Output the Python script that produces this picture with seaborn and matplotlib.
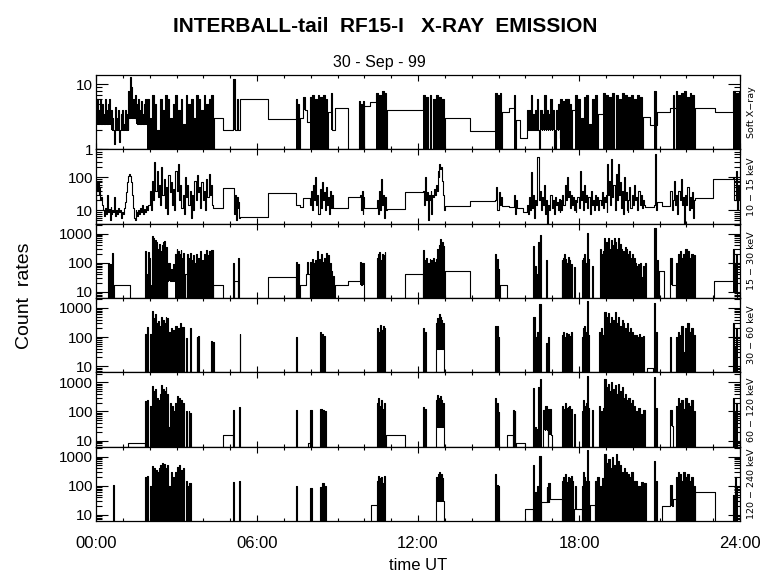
import matplotlib
matplotlib.use("Agg")
import matplotlib.pyplot as plt
import seaborn as sns
import pandas as pd
from matplotlib.ticker import FixedLocator, FixedFormatter, NullFormatter, LogLocator, MultipleLocator

# ---------------- data ----------------
hour_ticks = [0, 6, 12, 18, 24]
hour_labels = ["00:00", "06:00", "12:00", "18:00", "24:00"]
channel_labels = ["Soft X\u2212ray", "10 \u2212 15 keV", "15 \u2212 30 keV",
                  "30 \u2212 60 keV", "60 \u2212 120 keV", "120 \u2212 240 keV"]
y_limits = [(1, 14), (4, 700), (6.2, 2200), (6.2, 2200), (6.2, 2200), (6.2, 2200)]
y_major = [[1, 10], [10, 100], [10, 100, 1000], [10, 100, 1000], [10, 100, 1000], [10, 100, 1000]]

# Panel 1 : Soft X-ray
p1_step_t = [0, 4.4, 4.75, 5.35, 6.4, 7.6, 7.85, 8.65, 8.82, 8.9, 9.4, 10.0, 10.2, 10.85, 13.0,
             13.95, 15.13, 15.38, 15.65, 15.8, 17.75, 18.7, 20.4, 20.65, 20.9, 21.4, 22.33, 23.07, 23.95]
p1_step_v = [2.8, 3.0, 2.0, 5.9, 2.9, 3.0, 2.6, 3.8, 2.0, 4.4, 0.5, 4.7, 5.3, 4.0, 3.0,
             1.9, 3.7, 4.3, 2.8, 1.5, 4.0, 3.5, 3.2, 2.4, 3.8, 4.4, 4.4, 3.8, 8.0]
p1_burst_t0 = [0.0, 0.55, 1.2, 1.5, 1.9, 5.12, 5.25, 7.45, 7.72, 7.97, 8.75, 9.8, 10.45, 12.2,
               14.87, 15.57, 16.05, 17.3, 17.85, 18.9, 20.8, 21.5, 21.6, 23.75]
p1_burst_t1 = [0.55, 1.2, 1.5, 1.9, 4.4, 5.2, 5.33, 7.6, 7.85, 8.65, 8.82, 10.0, 10.85, 13.0,
               15.13, 15.65, 17.3, 17.75, 18.7, 20.4, 20.88, 21.55, 22.33, 23.95]
p1_burst_low = [2.5, 2.0, 3.0, 2.5, 0.5, 2.0, 2.0, 0.5, 4.0, 0.5, 2.0, 0.5, 0.5, 0.5,
                0.5, 0.5, 2.0, 0.5, 0.5, 0.5, 0.5, 0.5, 0.5, 0.5]
p1_burst_vals = [
    [5, 6, 4, 6, 5, 3.5, 6, 4, 5, 6],
    [4, 3, 1.2, 4.5, 3, 4, 1.3, 3.5, 4, 2.5, 4, 3.5],
    [8, 13, 9, 6, 7],
    [5, 6, 4, 5.5, 3.5, 5, 6],
    [6, 3, 7, 5, 2, 6, 4, 7, 6, 3, 5, 7, 4, 6, 2.5, 7, 5, 6, 3, 7, 6, 4, 7, 5, 6, 7],
    [12], [6], [6, 5], [6.5],
    [6.5, 7, 6, 7, 6.5, 7, 6],
    [7.5], [5.5, 5, 5.5], [7.5, 7, 8, 7.5],
    [7, 6.5, 7, 6, 7, 6.5, 6],
    [7.5, 7, 7.5], [7],
    [4, 4, 7, 3.5, 4, 6, 0.5, 4, 3.5, 7, 4, 3.5, 6, 4, 0.5, 4, 5],
    [6, 5.5, 6, 6, 5],
    [7, 6, 3, 6.5, 7, 2.5, 6, 7],
    [7.5, 7, 6.5, 7.5, 7, 6, 7.5, 7, 6.5, 7, 6, 7, 6.5],
    [8], [7], [7.8, 7, 7.5, 7.8, 6.5, 7.5, 7], [8, 7.5],
]

# Panel 2 : 10 - 15 keV  (noisy line; values listed in order)
p2_step_t = [0, 4.37, 4.73, 5.37, 6.4, 7.47, 7.6, 7.72, 8.85, 9.4, 10.0, 10.85, 11.5, 13.0, 13.95,
             15.13, 15.4, 15.7, 15.9, 20.47, 20.9, 21.1, 22.33, 23.0]
p2_step_v = [10, 12, 48, 6.3, 34, 15, 12.4, 24, 12, 25, 12, 11, 36, 14, 19,
             14, 12.5, 12, 8.7, 13, 18, 14, 24, 87]
p2_burst_t0 = [0.0, 0.25, 1.05, 1.5, 1.95, 5.13, 7.97, 9.84, 10.47, 12.2, 14.87, 15.57, 16.05,
               17.3, 17.9, 19.05, 19.83, 20.78, 21.4, 21.5, 23.75]
p2_burst_t1 = [0.25, 1.05, 1.5, 1.95, 4.37, 5.37, 8.85, 10.0, 10.85, 13.0, 15.13, 15.7, 17.3,
               17.9, 19.05, 19.83, 20.47, 20.9, 21.5, 22.33, 24.0]
p2_burst_vals = [
    [80, 40, 70, 30, 50, 20, 25, 15],
    [10, 7, 12, 8, 30, 9, 11, 5, 13, 8, 10, 9, 25, 7, 10, 8, 12, 9, 10, 6, 9, 8],
    [12, 18, 35, 70, 110, 125, 110, 70, 30, 12, 6, 5],
    [9, 7, 10, 8, 12, 9, 15, 8, 11, 9, 14, 10],
    [15, 40, 10, 80, 20, 300, 40, 150, 25, 60, 15, 200, 30, 90, 12, 50, 8, 120, 35, 70, 15, 45,
     10, 150, 40, 250, 20, 60, 12, 30, 8, 100, 25, 60, 15, 40, 6, 30, 10, 80, 20, 120, 35, 50,
     12, 70, 20, 40, 10, 90, 25, 130, 30, 60, 15],
    [20, 8, 30, 5, 25, 12, 18, 6],
    [15, 40, 10, 60, 20, 100, 15, 30, 8, 45, 12, 70, 20, 35, 10, 50, 15, 25, 8, 40, 12, 30],
    [30, 10, 40, 8, 25],
    [20, 8, 40, 10, 90, 15, 30, 6, 25, 10],
    [40, 15, 100, 20, 35, 5, 30, 20, 40, 8, 30, 25, 45, 30, 60, 40, 150, 100, 250, 180, 200, 80, 30, 10],
    [20, 50, 10, 35, 15, 25],
    [30, 8, 20],
    [15, 8, 25, 10, 140, 12, 30, 6, 20, 15, 420, 20, 40, 10, 25, 15, 60, 8, 20, 4, 15, 10, 30,
     12, 20, 8, 25, 15, 18, 10, 22],
    [20, 10, 30, 15, 60, 20, 100, 25, 40, 12, 30, 15, 25, 10, 20],
    [18, 25, 12, 160, 20, 40, 10, 60, 18, 30, 12, 25, 8, 40, 15, 20, 10, 30, 15, 25, 10, 20, 15,
     35, 12, 25, 18, 30],
    [250, 30, 80, 15, 365, 25, 60, 10, 130, 20, 250, 30, 70, 12, 40, 8, 100, 20, 35, 10],
    [20, 50, 12, 30, 15, 60, 20, 25, 10, 40, 15, 30, 12, 20, 15],
    [15, 500, 10],
    [40, 10],
    [20, 80, 15, 30, 8, 40, 20, 90, 15, 25, 4, 30, 15, 50, 10, 25, 12, 35, 6, 20],
    [100, 20, 150, 10, 60, 20],
]

# Panel 3 : 15 - 30 keV
p3_step_t = [0, 0.67, 1.25, 2.65, 3.3, 3.4, 4.37, 4.73, 5.15, 5.3, 6.4, 7.45, 7.6, 7.83, 7.97,
             8.9, 9.4, 10.0, 11.5, 12.2, 13.0, 13.95, 15.07, 15.3, 20.98, 21.17, 21.5, 21.6,
             23.03, 23.9]
p3_step_v = [1, 17, 1, 24, 40, 1, 17, 1, 24, 1, 33, 1, 17, 41, 1,
             17, 24, 1, 40, 1, 51, 1, 17, 1, 51, 1, 17, 1,
             24, 1]
p3_burst_t0 = [0.45, 1.83, 2.7, 2.95, 3.4, 3.8, 5.1, 5.3, 7.45, 7.85, 7.97, 9.84, 10.47, 12.2,
               14.87, 16.3, 16.78, 17.35, 17.82, 18.1, 18.48, 18.78, 18.95, 20.1, 20.8, 21.4,
               21.6, 23.75]
p3_burst_t1 = [0.65, 2.65, 2.95, 3.3, 3.8, 4.37, 5.15, 5.37, 7.6, 7.9, 8.9, 10.0, 10.8, 13.0,
               15.05, 16.6, 16.85, 17.74, 17.88, 18.4, 18.52, 18.95, 20.1, 20.5, 20.98, 21.5,
               22.33, 23.9]
p3_burst_low = [1, 1, 24, 1, 1, 1, 1, 1, 1, 41, 1, 17, 1, 1,
                1, 1, 1, 1, 1, 1, 1, 1, 1, 1, 1, 17,
                1, 10]
p3_burst_vals = [
    [100, 90, 210],
    [250, 40, 230, 150, 17, 800, 700, 600, 500, 300, 450, 250, 400, 500, 550, 350],
    [100, 60, 90],
    [200, 300, 250, 200, 280, 150, 220],
    [200, 150, 220, 120, 180, 100, 200],
    [150, 250, 120, 200, 280, 180, 250, 280],
    [100], [150], [110, 90], [110],
    [110, 130, 100, 120, 250, 130, 200, 110, 150, 220, 180, 100, 51, 35],
    [110, 100],
    [150, 200, 240, 120, 200, 180, 230],
    [280, 120, 150, 100, 130, 120, 150, 110, 140, 300, 400, 640, 500, 380],
    [195, 130, 60],
    [380, 80, 40, 500, 930],
    [125],
    [120, 150, 200, 130, 100, 160, 120, 90],
    [74],
    [120, 150, 200, 100, 1080, 130],
    [80],
    [300, 200, 250],
    [690, 500, 700, 300, 600, 400, 700, 500, 300, 700, 450, 300, 250, 350, 300, 200, 250, 150, 200, 150],
    [100, 80, 90, 100, 33, 80, 100],
    [1550, 120],
    [145],
    [100, 200, 250, 150, 200, 300, 250, 150, 200, 180],
    [300, 100, 200],
]

# Panel 4 : 30 - 60 keV
p4_step_t = [0, 20.55, 20.75]
p4_step_v = [1, 9, 1]
p4_burst_t0 = [1.83, 2.0, 2.1, 2.7, 2.95, 3.35, 3.5, 3.75, 4.3, 5.35, 7.47, 8.35, 10.47, 12.2,
               12.67, 14.87, 16.3, 16.78, 17.35, 18.1, 18.75, 18.95, 20.1, 20.8, 21.4, 21.6, 23.75]
p4_burst_t1 = [1.95, 2.05, 2.7, 2.95, 3.3, 3.4, 3.55, 3.85, 4.4, 5.4, 7.52, 8.55, 10.8, 12.3,
               12.97, 15.05, 16.6, 16.9, 17.74, 18.4, 18.95, 20.1, 20.45, 20.95, 21.45, 22.33, 23.9]
p4_burst_low = [1, 1, 1, 1, 1, 1, 1, 1, 1, 1, 1, 1, 1, 1,
                40, 1, 1, 1, 1, 1, 1, 1, 1, 1, 1, 1, 1]
p4_burst_vals = [
    [130, 16, 220], [130],
    [800, 450, 600, 300, 350, 250, 500, 400, 300, 500, 450],
    [150, 200, 180], [250, 200, 300, 220], [90], [200], [100, 110], [73, 70],
    [130], [100], [148, 130, 110],
    [200, 150, 260, 180, 250, 200],
    [200, 150],
    [300, 450, 600, 500, 400, 300],
    [240, 250, 100],
    [490, 100, 150, 1350],
    [64, 100],
    [120, 150, 100, 140, 130, 110, 150],
    [100, 200, 250, 150, 1740, 120],
    [150, 200, 120],
    [700, 500, 650, 300, 500, 400, 700, 300, 500, 250, 400, 300, 200, 300, 150, 200, 150, 120],
    [120, 100, 130, 100, 110],
    [1500, 150], [100],
    [100, 150, 120, 250, 30, 200, 300, 150, 200, 120],
    [300, 50, 200],
]

# Panel 5 : 60 - 120 keV
p5_step_t = [0, 1.2, 1.82, 4.73, 5.1, 7.9, 7.97, 10.8, 11.5, 15.3, 15.55, 15.65, 16.0]
p5_step_v = [1, 8.3, 1, 15.3, 1, 8.3, 1, 16, 1, 16, 1, 8, 1]
p5_burst_t0 = [1.83, 2.0, 2.1, 2.7, 2.95, 3.35, 3.45, 5.1, 5.33, 7.45, 7.97, 8.35, 10.47, 12.2,
               12.67, 14.87, 15.55, 16.3, 16.65, 16.85, 17.35, 17.82, 18.1, 18.48, 18.75, 18.95,
               20.1, 20.8, 21.4, 21.6, 23.75]
p5_burst_t1 = [1.95, 2.05, 2.7, 2.95, 3.3, 3.4, 3.55, 5.15, 5.38, 7.52, 8.1, 8.6, 10.8, 12.3,
               12.97, 15.05, 15.65, 16.6, 16.85, 17.0, 17.74, 17.88, 18.4, 18.52, 18.95, 20.1,
               20.5, 20.95, 21.5, 22.33, 23.9]
p5_burst_low = [1, 1, 1, 1, 1, 1, 1, 1, 1, 1, 1, 1, 1, 1,
                30, 1, 1, 1, 23, 16, 1, 1, 1, 1, 1, 1,
                1, 1, 31, 1, 1]
p5_burst_vals = [
    [230, 24, 250], [150],
    [750, 500, 600, 300, 250, 400, 800, 600, 500, 700, 400],
    [30, 200, 150, 100], [200, 350, 300, 250, 200], [100], [100, 90],
    [108], [140], [110], [110], [120, 110, 100],
    [200, 280, 150, 250, 120, 200],
    [140, 120],
    [250, 370, 300, 350, 250, 200],
    [300, 200, 96],
    [110, 100],
    [620, 30, 25, 700, 1350],
    [110, 150], [120],
    [150, 120, 200, 130, 140, 150, 120],
    [80],
    [100, 250, 150, 200, 1700, 130],
    [110],
    [150, 100, 130],
    [1300, 700, 900, 500, 1000, 600, 800, 400, 900, 500, 700, 300, 400, 250, 300, 200, 250, 150],
    [100, 130, 80, 110],
    [1500, 130], [110],
    [150, 300, 200, 250, 120, 300, 200, 150, 250, 100],
    [300, 100, 200],
]

# Panel 6 : 120 - 240 keV
p6_step_t = [0, 10.25, 10.47, 16.0, 16.3, 16.6, 16.9, 17.35, 17.8, 18.1, 18.4, 18.6, 21.1, 21.5,
             21.6, 22.33, 23.07]
p6_step_v = [1, 22.5, 1, 15.5, 1, 28, 35, 1, 15.5, 1, 22, 1, 21, 35,
             1, 59, 1]
p6_burst_t0 = [0.63, 1.83, 2.0, 2.1, 2.7, 2.95, 3.35, 5.1, 5.33, 7.47, 7.97, 8.35, 10.47, 12.67,
               14.87, 16.3, 16.45, 16.8, 16.9, 17.35, 17.85, 18.1, 18.6, 18.95, 20.1, 20.8,
               21.4, 21.6, 23.75]
p6_burst_t1 = [0.67, 1.95, 2.05, 2.7, 2.95, 3.3, 3.55, 5.15, 5.38, 7.52, 8.1, 8.6, 10.8, 12.97,
               15.05, 16.4, 16.6, 16.88, 16.95, 17.8, 17.9, 18.4, 18.95, 20.1, 20.55, 20.92,
               21.5, 22.33, 23.9]
p6_burst_low = [1, 1, 1, 1, 1, 1, 1, 1, 1, 1, 1, 1, 1, 30,
                1, 1, 1, 28, 35, 1, 15.5, 1, 1, 1, 1, 1,
                21, 1, 1]
p6_burst_vals = [
    [110], [200, 220], [100],
    [460, 400, 350, 300, 400, 500, 600, 550, 400, 500],
    [100, 300, 200], [300, 450, 500, 350, 400], [150, 100, 120],
    [140], [150], [100], [86], [92, 125, 100],
    [150, 225, 180, 200, 125, 220],
    [200, 260, 300, 260, 180],
    [263, 107, 100],
    [510, 60], [100, 1070],
    [93, 120], [120],
    [150, 200, 250, 130, 200, 180, 220, 150],
    [100],
    [100, 300, 200, 150, 1700, 150],
    [150, 200, 100, 180],
    [1200, 600, 800, 400, 1000, 500, 1200, 700, 500, 300, 400, 300, 250, 200, 300, 150],
    [150, 100, 130, 120],
    [700, 150],
    [110],
    [200, 300, 250, 150, 300, 200, 250, 150, 200, 100],
    [50, 200, 100],
]


# ---------------- assemble the series ----------------
PEAK_FRACTION = 0.65  # share of each sample interval spent at the peak value


def burst_sequence(a, b, lo, vals):
    if lo is None:
        n = len(vals)
        return [a + (b - a) * i / n for i in range(n)], list(vals)
    period = (b - a) / len(vals)
    ts, seq = [], []
    for i, v in enumerate(vals):
        ts += [a + period * i, a + period * (i + PEAK_FRACTION)]
        seq += [v, lo]
    return ts, seq


def build_series(step_t, step_v, b_t0, b_t1, b_low, b_vals, end=24.0):
    def base(t):
        v = step_v[0]
        for st, sv in zip(step_t, step_v):
            if st <= t + 1e-9:
                v = sv
        return v

    pts = []
    for st, sv in zip(step_t, step_v):
        if not any(a < st < b for a, b in zip(b_t0, b_t1)):
            pts.append((st, sv))
    fills = []
    for a, b, lo, vals in zip(b_t0, b_t1, b_low, b_vals):
        ts, seq = burst_sequence(a, b, lo, vals)
        pts += list(zip(ts, seq))
        if lo is not None:
            fills.append((ts + [b], seq + [lo], lo))
        if b < end:
            pts.append((b, base(b)))
    pts.sort(key=lambda p: p[0])
    pts.append((end, pts[-1][1]))
    df = pd.DataFrame({"t": [p[0] for p in pts], "v": [p[1] for p in pts]})
    return df, fills


panels = [
    build_series(p1_step_t, p1_step_v, p1_burst_t0, p1_burst_t1, p1_burst_low, p1_burst_vals),
    build_series(p2_step_t, p2_step_v, p2_burst_t0, p2_burst_t1, [None] * len(p2_burst_t0), p2_burst_vals),
    build_series(p3_step_t, p3_step_v, p3_burst_t0, p3_burst_t1, p3_burst_low, p3_burst_vals),
    build_series(p4_step_t, p4_step_v, p4_burst_t0, p4_burst_t1, p4_burst_low, p4_burst_vals),
    build_series(p5_step_t, p5_step_v, p5_burst_t0, p5_burst_t1, p5_burst_low, p5_burst_vals),
    build_series(p6_step_t, p6_step_v, p6_burst_t0, p6_burst_t1, p6_burst_low, p6_burst_vals),
]

# ---------------- drawing ----------------
plt.rcParams["font.family"] = ["Liberation Sans", "DejaVu Sans"]
W, H = 780, 579
fig = plt.figure(figsize=(W / 100, H / 100), dpi=100)

left_px, right_px = 96, 740
top_px, panel_h = 75, 74.33

for k, (df, fills) in enumerate(panels):
    y0 = top_px + k * panel_h
    ax = fig.add_axes([left_px / W, 1 - (y0 + panel_h) / H, (right_px - left_px) / W, panel_h / H])
    ax.set_yscale("log")
    for ts, vs, lo in fills:
        ax.fill_between(ts, vs, lo, step="post", color="black", linewidth=0)
    sns.lineplot(data=df, x="t", y="v", ax=ax, drawstyle="steps-post", estimator=None,
                 sort=False, color="black", linewidth=0.8, legend=False)
    ax.set_xlim(0, 24)
    ax.set_ylim(*y_limits[k])
    ax.set_xlabel("")
    ax.set_ylabel("")
    ax.set_facecolor("white")
    for s in ax.spines.values():
        s.set_linewidth(0.9)
        s.set_color("black")

    ax.xaxis.set_major_locator(FixedLocator(hour_ticks))
    ax.xaxis.set_minor_locator(MultipleLocator(1))
    ax.tick_params(axis="x", which="both", direction="in", top=True, bottom=True, width=0.8)
    ax.tick_params(axis="x", which="major", length=4.0)
    ax.tick_params(axis="x", which="minor", length=2.3)
    if k == 5:
        ax.xaxis.set_major_formatter(FixedFormatter(hour_labels))
        ax.tick_params(axis="x", which="major", labelsize=12, pad=11)
    else:
        ax.xaxis.set_major_formatter(NullFormatter())

    ax.yaxis.set_major_locator(FixedLocator(y_major[k]))
    ax.yaxis.set_major_formatter(FixedFormatter([str(v) for v in y_major[k]]))
    ax.yaxis.set_minor_locator(LogLocator(base=10, subs=range(2, 10)))
    ax.yaxis.set_minor_formatter(NullFormatter())
    ax.tick_params(axis="y", which="both", direction="in", left=True, right=True, width=0.8)
    ax.tick_params(axis="y", which="major", length=8.5, labelsize=11, pad=2)
    ax.tick_params(axis="y", which="minor", length=4.3)

    fig.text(752 / W, 1 - (y0 + panel_h / 2) / H, channel_labels[k], rotation=90,
             ha="center", va="center", fontsize=6.8, family=["DejaVu Sans"])

fig.text(385 / W, 1 - 27 / H, "INTERBALL-tail  RF15-I   X-RAY  EMISSION", ha="center", va="center",
         fontsize=15, fontweight="bold")
fig.text(379 / W, 1 - 62 / H, "30 - Sep - 99", ha="center", va="center", fontsize=11.5)
fig.text(25 / W, 1 - 296 / H, "Count  rates", rotation=90, ha="center", va="center", fontsize=14)
fig.text(418 / W, 1 - 565 / H, "time UT", ha="center", va="center", fontsize=12)

fig.savefig("out.png", dpi=100)
